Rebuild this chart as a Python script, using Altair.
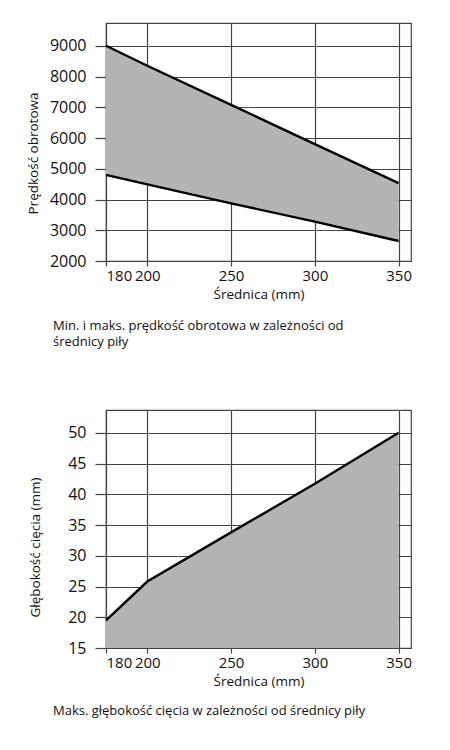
import altair as alt
import pandas as pd

# values
diameter = [180, 200, 250, 300, 350]
speed_max = [9000, 8350, 7080, 5800, 4530]
speed_min = [4800, 4490, 3875, 3280, 2650]
depth_max = [19.5, 25.8, 33.8, 41.7, 50.0]

x_ticks = [180, 200, 250, 300, 350]
speed_ticks = [2000, 3000, 4000, 5000, 6000, 7000, 8000, 9000]
depth_ticks = [15, 20, 25, 30, 35, 40, 45, 50]

speed_df = pd.DataFrame({"d": diameter, "vmax": speed_max, "vmin": speed_min})
depth_df = pd.DataFrame({"d": diameter, "depth": depth_max})

FONT = "Open Sans"
GRID = "#444444"
FILL = "#b4b4b4"


def x_enc():
    # the printed axis gives the 180-200 step more room than the rest
    return alt.X(
        "d:Q",
        scale=alt.Scale(domain=[180, 200, 357.4], range=[0, 41.3, 305],
                        nice=False, zero=False),
        axis=alt.Axis(values=x_ticks, title="Średnica (mm)", tickSize=5,
                      labelPadding=2, titlePadding=4, format="d",
                      labelOverlap=False),
    )


def y_enc(field, title, ticks, domain, title_y, title_pad):
    return alt.Y(
        field,
        scale=alt.Scale(domain=domain, nice=False, zero=False),
        axis=alt.Axis(values=ticks, title=title, tickSize=11, labelPadding=9,
                      titlePadding=title_pad, titleY=title_y, format="d",
                      labelOverlap=False, tickCount=len(ticks), labelFontSize=16),
    )


# chart 1: speed range
speed_dom = [2000, 9740]
y1 = dict(title="Prędkość obrotowa", ticks=speed_ticks, domain=speed_dom,
          title_y=130, title_pad=9)
base1 = alt.Chart(speed_df)
band = base1.mark_area(color=FILL, opacity=1).encode(
    x=x_enc(), y=y_enc("vmax:Q", **y1), y2="vmin:Q",
)
top_line = base1.mark_line(color="black", strokeWidth=2.4).encode(
    x=x_enc(), y=y_enc("vmax:Q", **y1))
low_line = base1.mark_line(color="black", strokeWidth=2.4).encode(
    x=x_enc(), y=y_enc("vmin:Q", **y1))

speed_chart = alt.layer(band, top_line, low_line).properties(
    width=305, height=238,
    title=alt.TitleParams(
        ["Min. i maks. prędkość obrotowa w zależności od", "średnicy piły"],
        orient="bottom", anchor="start", frame="group", dx=-53, offset=19,
        fontSize=13, font=FONT, fontWeight="normal", color="#111", lineHeight=16.5,
    ),
)

# chart 2: cutting depth
depth_dom = [15, 53.7]
y2 = dict(title="Głębokość cięcia (mm)", ticks=depth_ticks, domain=depth_dom,
          title_y=137, title_pad=25)
base2 = alt.Chart(depth_df)
fill2 = base2.mark_area(color=FILL, opacity=1).encode(
    x=x_enc(), y=y_enc("depth:Q", **y2), y2=alt.datum(15),
)
line2 = base2.mark_line(color="black", strokeWidth=2.4).encode(
    x=x_enc(), y=y_enc("depth:Q", **y2))

depth_chart = alt.layer(fill2, line2).properties(
    width=305, height=238,
    title=alt.TitleParams(
        "Maks. głębokość cięcia w zależności od średnicy piły",
        orient="bottom", anchor="start", frame="group", dx=-53, offset=17,
        fontSize=13, font=FONT, fontWeight="normal", color="#111",
    ),
)

chart = alt.vconcat(speed_chart, depth_chart, spacing=59).properties(
    padding={"left": 17, "top": 14, "right": 5, "bottom": 5}
).configure_view(
    stroke=GRID, strokeWidth=1.2
).configure_axis(
    grid=True, gridColor=GRID, gridWidth=1.2, gridOpacity=1,
    domain=False, tickColor=GRID, tickWidth=1.2,
    labelFont=FONT, labelFontSize=15, labelColor="#111",
    titleFont=FONT, titleFontSize=13.5, titleFontWeight="normal", titleColor="#111",
)

chart.save("out.html", embed_options={"renderer": "svg", "actions": False})
